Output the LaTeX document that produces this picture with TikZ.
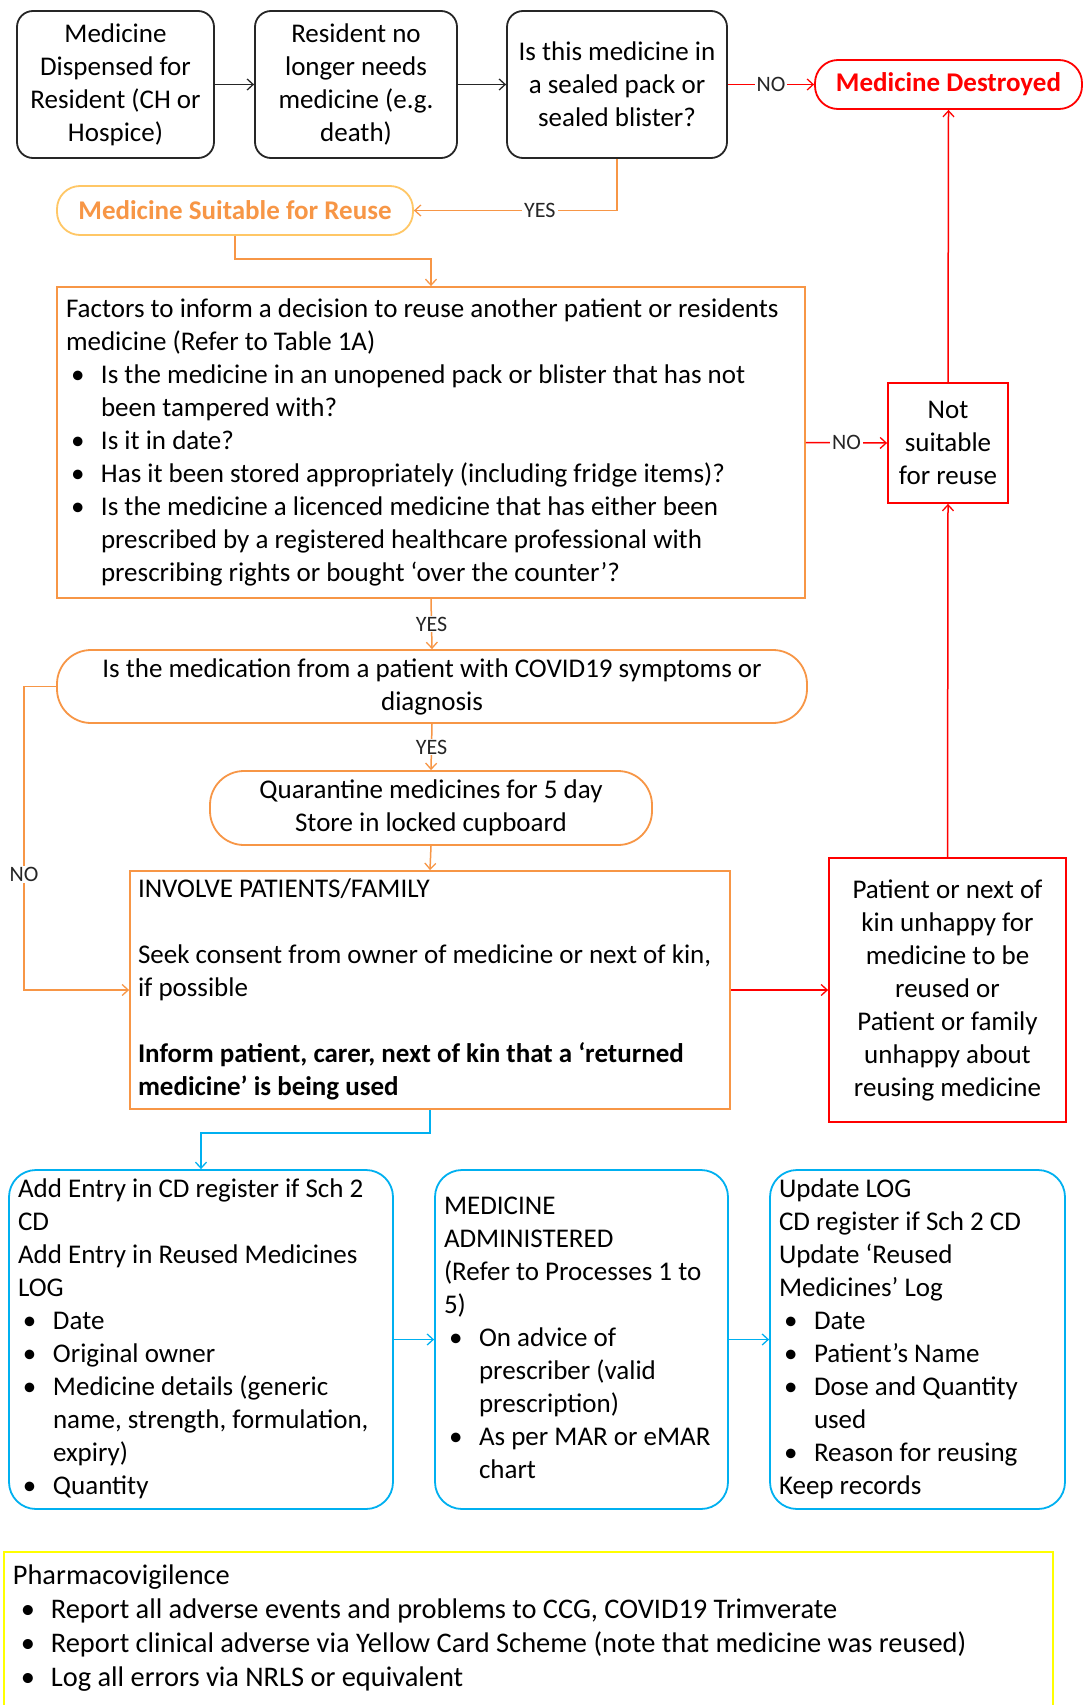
\documentclass[tikz,border=0pt]{standalone}
\usepackage{fontspec}
\setmainfont{Carlito}
\usetikzlibrary{arrows.meta}
\definecolor{orng}{HTML}{F79646}
\definecolor{lorng}{HTML}{FFC766}
\definecolor{redc}{HTML}{FF0000}
\definecolor{bluc}{HTML}{00B0F0}
\definecolor{yelc}{HTML}{FFFF00}
\newcommand\fs{\fontsize{27}{33}\selectfont}
\newcommand\bul{\hspace*{5pt}\makebox[30pt][l]{•}}
\newcommand\cont{\hspace*{35pt}}
\newcommand\tl[1]{{\spaceskip=0pt\xspaceskip=0pt\begin{tabular}{@{}l@{}}#1\end{tabular}}}
\begin{document}
\begin{tikzpicture}[x=1pt,y=-1pt,
  every node/.style={inner sep=0pt, font=\fs},
  base/.style={line width=1.8pt, align=center},
  blkbox/.style={base, draw=black!85, rounded corners=16pt},
  obox/.style={base, draw=orng},
  lbox/.style={line width=1.8pt, align=left, inner xsep=9pt},
  conn/.style={line width=1.5pt, -{Straight Barb[length=6pt,width=11pt,line width=1.3pt]}},
  lbl/.style={fill=white, text=black!85, inner xsep=2pt, inner ysep=1pt, font=\fontsize{22}{24}\selectfont}
]
\useasboundingbox (0,0) rectangle (1086,1705);
\fill[white] (0,0) rectangle (1086,1705);

% top row
\node[blkbox, minimum width=197pt, minimum height=147pt] (b1) at (115.5,84.5)
  {Medicine\\Dispensed for\\Resident (CH or\\Hospice)};
\node[blkbox, minimum width=202pt, minimum height=147pt] (b2) at (356,84.5)
  {Resident no\\longer needs\\medicine (e.g.\\death)};
\node[blkbox, minimum width=220pt, minimum height=147pt] (b3) at (617,84.5)
  {Is this medicine in\\a sealed pack or\\sealed blister?};
\node[base, draw=redc, rounded corners=23pt, minimum width=267pt, minimum height=49pt,
  text=redc, font=\fs\bfseries] (dest) at (948.5,84.5) {Medicine Destroyed};

\node[base, draw=lorng, rounded corners=23pt, minimum width=356pt, minimum height=49pt,
  text=orng, font=\fs\bfseries] (suit) at (235,210.5) {Medicine Suitable for Reuse};

% factors
\node[lbox, draw=orng, text width=730pt, minimum height=311pt] (fac) at (431,442.5)
  {\tl{Factors to inform a decision to reuse another patient or residents\\
   medicine (Refer to Table 1A)\\
   \bul Is the medicine in an unopened pack or blister that has not\\
   \cont been tampered with?\\
   \bul Is it in date?\\
   \bul Has it been stored appropriately (including fridge items)?\\
   \bul Is the medicine a licenced medicine that has either been\\
   \cont prescribed by a registered healthcare professional with\\
   \cont prescribing rights or bought ‘over the counter’?}};

\node[base, draw=redc, minimum width=120pt, minimum height=120pt] (ns) at (948,443)
  {Not\\suitable\\for reuse};

\node[obox, rounded corners=34pt, minimum width=750pt, minimum height=73pt] (covid) at (432,686.5)
  {Is the medication from a patient with COVID19 symptoms or\\diagnosis};

\node[obox, rounded corners=34pt, minimum width=442pt, minimum height=74pt] (quar) at (431,808)
  {Quarantine medicines for 5 day\\Store in locked cupboard};

\node[lbox, draw=orng, text width=584pt, minimum height=238pt, inner xsep=8pt] (inv) at (430,990)
  {\tl{INVOLVE PATIENTS/FAMILY\\[33pt]
   Seek consent from owner of medicine or next of kin,\\
   if possible\\[33pt]
   \textbf{Inform patient, carer, next of kin that a ‘returned}\\
   \textbf{medicine’ is being used}}};

\node[base, draw=redc, minimum width=237pt, minimum height=264pt] (unh) at (947.5,990)
  {Patient or next of\\kin unhappy for\\medicine to be\\reused or\\Patient or family\\unhappy about\\reusing medicine};

% blue boxes
\node[lbox, draw=bluc, rounded corners=27pt, text width=366pt, minimum height=339pt] (ba) at (201,1339.5)
  {\tl{Add Entry in CD register if Sch 2\\
   CD\\
   Add Entry in Reused Medicines\\
   LOG\\
   \bul Date\\
   \bul Original owner\\
   \bul Medicine details (generic\\
   \cont name, strength, formulation,\\
   \cont expiry)\\
   \bul Quantity}};
\node[lbox, draw=bluc, rounded corners=27pt, text width=275pt, minimum height=339pt] (bb) at (581.5,1339.5)
  {\tl{MEDICINE\\
   ADMINISTERED\\
   (Refer to Processes 1 to\\
   5)\\
   \bul On advice of\\
   \cont prescriber (valid\\
   \cont prescription)\\
   \bul As per MAR or eMAR\\
   \cont chart}};
\node[lbox, draw=bluc, rounded corners=27pt, text width=277pt, minimum height=339pt] (bc) at (917.5,1339.5)
  {\tl{Update LOG\\
   CD register if Sch 2 CD\\
   Update ‘Reused\\
   Medicines’ Log\\
   \bul Date\\
   \bul Patient’s Name\\
   \bul Dose and Quantity\\
   \cont used\\
   \bul Reason for reusing\\
   Keep records}};

% yellow box
\node[lbox, draw=yelc, text width=1031pt, minimum height=169pt, anchor=north west, inner ysep=9pt,
  font=\fontsize{28.4}{34}\selectfont] (pv) at (3,1551)
  {\tl{Pharmacovigilence\\
   \hspace*{3pt}\bul Report all adverse events and problems to CCG, COVID19 Trimverate\\
   \hspace*{3pt}\bul Report clinical adverse via Yellow Card Scheme (note that medicine was reused)\\
   \hspace*{3pt}\bul Log all errors via NRLS or equivalent\\[40pt]}};

% connectors
\draw[conn, black!85] (b1.east) -- (b2.west);
\draw[conn, black!85] (b2.east) -- (b3.west);
\draw[conn, redc] (b3.east) -- node[lbl]{NO} (dest.west);
\draw[conn, orng] (b3.south) |- node[lbl, pos=0.69]{YES} (suit.east);
\draw[conn, orng] (suit.south) -- ++(0,23) -| (fac.north);
\draw[conn, redc] (fac.east) -- node[lbl]{NO} (ns.west);
\draw[conn, redc] (ns.north) -- (dest.south);
\draw[conn, orng] (fac.south) -- node[lbl]{YES} (covid.north);
\draw[conn, orng] (covid.south) -- node[lbl]{YES} (quar.north);
\draw[conn, orng] (quar.south) -- (inv.north);
\draw[conn, orng] (covid.west) -- ++(-32,0) |- node[lbl, pos=0.31]{NO} (inv.west);
\draw[conn, redc] (inv.east) -- (unh.west);
\draw[conn, redc] (unh.north) -- (ns.south);
\draw[conn, bluc] (inv.south) -- ++(0,23) -| (ba.north);
\draw[conn, bluc] (ba.east) -- (bb.west);
\draw[conn, bluc] (bb.east) -- (bc.west);
\end{tikzpicture}
\end{document}
